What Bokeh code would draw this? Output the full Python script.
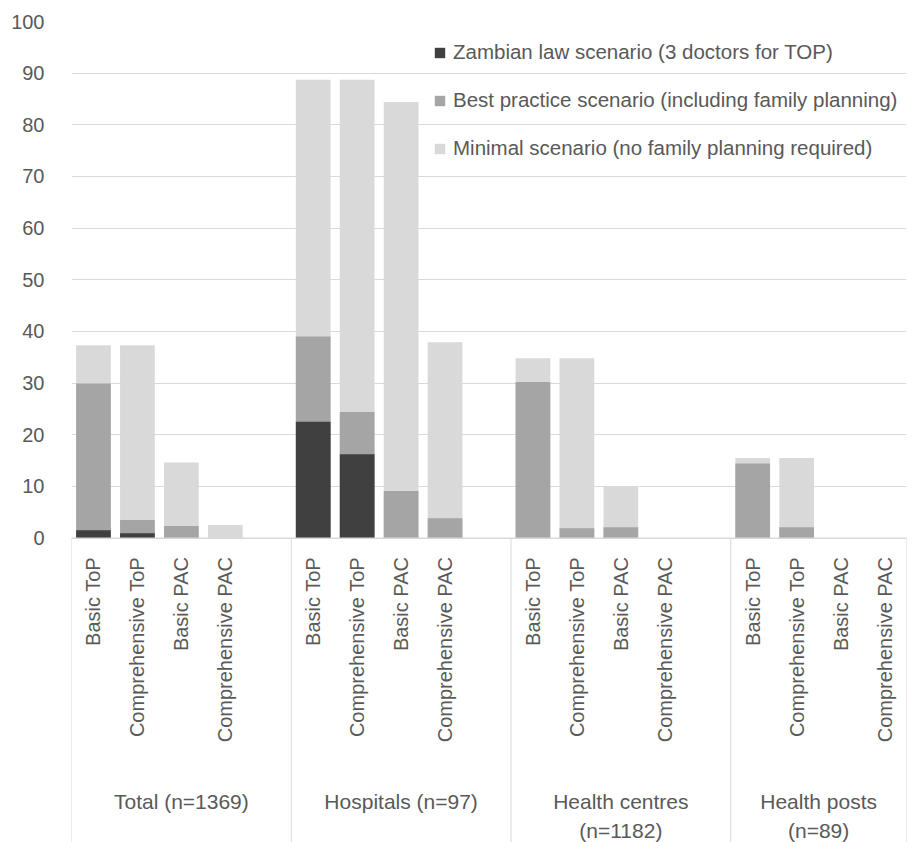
import math
from bokeh.plotting import figure
from bokeh.models import Range1d, FixedTicker, Legend, LegendItem, ColumnDataSource, Span
from bokeh.core.properties import value
from bokeh.embed import file_html
from bokeh.resources import INLINE

# ---- data ----
groups = ["Total (n=1369)", "Hospitals (n=97)", "Health centres\n(n=1182)", "Health posts\n(n=89)"]
services = ["Basic ToP", "Comprehensive ToP", "Basic PAC", "Comprehensive PAC"]
zambian = [1.5, 0.9, 0, 0, 22.5, 16.2, 0, 0, 0, 0, 0, 0, 0, 0, 0, 0]
best = [29.9, 3.5, 2.3, 0, 39.0, 24.4, 9.1, 3.8, 30.2, 1.9, 2.1, 0, 14.4, 2.1, 0, 0]
minimal = [37.3, 37.3, 14.6, 2.5, 88.7, 88.7, 84.4, 37.9, 34.8, 34.8, 10.0, 0, 15.5, 15.5, 0, 0]
y_ticks = list(range(0, 101, 10))
series_names = ["Zambian law scenario (3 doctors for TOP)",
                "Best practice scenario (including family planning)",
                "Minimal scenario (no family planning required)"]
colors = ["#404040", "#a5a5a5", "#d9d9d9"]

FONT = "Liberation Sans"
TXT = "#595959"
GRID = "#d9d9d9"

# ---- layout ----
W, H = 914, 842
BL, BR, BT = 71, 8, 21
plot_px_0_100 = 516.5          # pixels between value 0 and value 100
px_per_unit = plot_px_0_100 / 100
frame_h = H - BT
y_start = -(frame_h - plot_px_0_100) / px_per_unit

slot = 5  # 4 bars + 1 blank slot per group
xs, cat_labels = [], []
for gi, g in enumerate(groups):
    for si, s in enumerate(services):
        xs.append(gi * slot + si + 0.5)
        cat_labels.append(s)
n_slots = slot * len(groups) - 1
separators = [gi * slot for gi in range(len(groups))] + [n_slots]

p = figure(width=W, height=H, output_backend="svg", toolbar_location=None,
           x_range=Range1d(0, n_slots), y_range=Range1d(y_start, 100),
           x_axis_location=None,
           min_border_left=BL, min_border_right=BR, min_border_top=BT, min_border_bottom=0)
p.outline_line_color = None

src_min = ColumnDataSource(dict(x=xs, top=minimal))
src_best = ColumnDataSource(dict(x=xs, top=best))
src_zam = ColumnDataSource(dict(x=xs, top=zambian))
bw = 0.79
r_min = p.vbar(x="x", top="top", bottom=0, width=bw, source=src_min, fill_color=colors[2], line_color=None)
r_best = p.vbar(x="x", top="top", bottom=0, width=bw, source=src_best, fill_color=colors[1], line_color=None)
r_zam = p.vbar(x="x", top="top", bottom=0, width=bw, source=src_zam, fill_color=colors[0], line_color=None)

# y axis
yax = p.yaxis[0]
yax.ticker = FixedTicker(ticks=y_ticks)
yax.axis_line_color = None
yax.major_tick_line_color = None
yax.minor_tick_line_color = None
yax.major_tick_out = 0
yax.major_tick_in = 0
yax.major_label_standoff = 27
yax.major_label_text_font = FONT
yax.major_label_text_font_size = "20px"
yax.major_label_text_color = TXT

p.ygrid.ticker = FixedTicker(ticks=y_ticks)
p.ygrid.grid_line_color = GRID
p.ygrid.grid_line_width = 1
p.xgrid.grid_line_color = None

# category axis (drawn below the value 0 line)
p.add_layout(Span(location=0, dimension="width", line_color=GRID, line_width=1))
p.segment(x0=separators, x1=separators, y0=[0] * len(separators), y1=[y_start] * len(separators),
          line_color=GRID, line_width=1)
p.text(x=xs, y=[-19 / px_per_unit] * len(xs), text=cat_labels, angle=math.pi / 2,
       text_align="right", text_baseline="middle", text_font=value(FONT),
       text_font_size="20px", text_color=TXT)

gx, gy, gt = [], [], []
for gi, g in enumerate(groups):
    cx = (separators[gi] + separators[gi + 1]) / 2
    for li, line in enumerate(g.split("\n")):
        gx.append(cx)
        gy.append(-(263 + li * 29) / px_per_unit)
        gt.append(line)
p.text(x=gx, y=gy, text=gt, text_align="center", text_baseline="middle",
       text_font=value(FONT), text_font_size="21px", text_color=TXT)

legend_top = 39.5   # px below frame top
legend = Legend(items=[LegendItem(label=series_names[0], renderers=[r_zam]),
                       LegendItem(label=series_names[1], renderers=[r_best]),
                       LegendItem(label=series_names[2], renderers=[r_min])],
                location=(362, int(frame_h - (legend_top - BT) - 3 * 24 - 2 * 24)))
legend.background_fill_alpha = 0
legend.border_line_color = None
legend.padding = 0
legend.margin = 0
legend.glyph_width = 13
legend.glyph_height = 13
legend.label_standoff = 7
legend.label_text_font = FONT
legend.label_text_font_size = "20.5px"
legend.label_text_color = TXT
legend.label_height = 24
legend.spacing = 24
p.add_layout(legend)

open("out.html", "w").write(file_html(p, INLINE))
